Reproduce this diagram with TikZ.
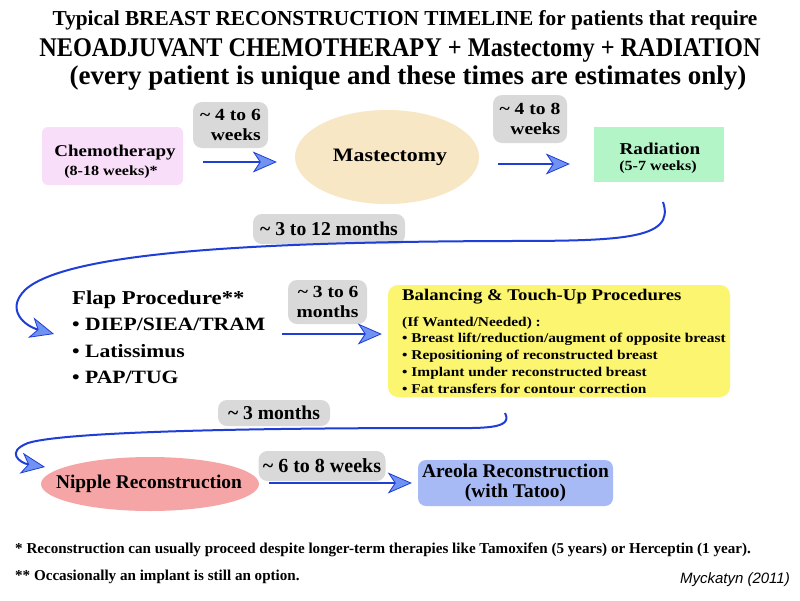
\documentclass[tikz,border=0pt]{standalone}
\usepackage{fontspec}
\setmainfont{Liberation Serif}
\newfontfamily\condf{Liberation Serif}[FakeStretch=0.9]
\newfontfamily\camf{Liberation Serif}[FakeStretch=1.15]
\newfontfamily\handf{Liberation Sans}
\usetikzlibrary{arrows.meta,shapes.geometric}
\definecolor{chemopink}{RGB}{248,222,248}
\definecolor{wheatc}{RGB}{247,231,196}
\definecolor{greenc}{RGB}{180,245,200}
\definecolor{yellowc}{RGB}{252,245,112}
\definecolor{salmonc}{RGB}{245,165,165}
\definecolor{lavc}{RGB}{167,186,245}
\definecolor{grayc}{RGB}{217,217,217}
\definecolor{linec}{RGB}{30,62,215}
\definecolor{tipfill}{RGB}{112,146,242}
\begin{document}
\begin{tikzpicture}[x=1pt,y=-1pt,
  every node/.style={text=black},
  box/.style={draw=none, rounded corners=6pt, align=center, inner sep=0pt},
  lbl/.style={fill=grayc, rounded corners=9pt, align=right, inner sep=0pt},
  conn/.style={draw=linec, line width=2pt, -{Stealth[length=24pt,width=21pt,inset=7pt,line width=0.8pt,fill=tipfill]}},
  ttl/.style={inner sep=0pt},
  txt/.style={inner sep=0pt}
]
\useasboundingbox[fill=white] (0,0) rectangle (800,600);

% titles
\node[ttl, font=\bfseries\fontsize{21.3}{24}\selectfont] (t1) at (405,20) {Typical BREAST RECONSTRUCTION TIMELINE for patients that require};
\node[ttl, font=\condf\bfseries\fontsize{27}{30}\selectfont] (t2) at (400,50) {NEOADJUVANT CHEMOTHERAPY + Mastectomy + RADIATION};
\node[ttl, font=\bfseries\fontsize{27}{30}\selectfont] (t3) at (408,78) {(every patient is unique and these times are estimates only)};

% row 1
\node[box, fill=chemopink, minimum width=141pt, minimum height=58pt] (chemo) at (112.5,156) {};
\node[txt, font=\camf\bfseries\fontsize{16.5}{18}\selectfont] (chemo1) at (115,153) {Chemotherapy};
\node[txt, font=\camf\bfseries\fontsize{14}{16}\selectfont] (chemo2) at (111,172) {(8-18 weeks)*};
\node[lbl, minimum width=75pt, minimum height=46pt, font=\camf\bfseries\fontsize{17}{20}\selectfont] (l1) at (230.5,125)
  {\textasciitilde\ 4 to 6\\ weeks};
\node[ellipse, fill=wheatc, minimum width=184pt, minimum height=94pt, inner sep=0pt] (mast) at (387,157) {};
\node[txt, font=\camf\bfseries\fontsize{19}{21}\selectfont] (mastt) at (390,157) {Mastectomy};
\node[lbl, minimum width=74pt, minimum height=48pt, font=\camf\bfseries\fontsize{17}{20}\selectfont] (l2) at (530,119)
  {\textasciitilde\ 4 to 8\\ weeks};
\node[box, rounded corners=0pt, fill=greenc, minimum width=130pt, minimum height=55pt] (rad) at (659,154.5) {};
\node[txt, font=\camf\bfseries\fontsize{16.6}{18}\selectfont] (rad1) at (660,149) {Radiation};
\node[txt, font=\camf\bfseries\fontsize{14}{16}\selectfont] (rad2) at (658,167) {(5-7 weeks)};

\draw[conn] ([xshift=20pt,yshift=-6pt]chemo.east) -- ([xshift=-18pt,yshift=-5pt]mast.west);
\draw[conn] ([xshift=19pt,yshift=-7pt]mast.east) -- ([xshift=-24pt,yshift=-9.5pt]rad.west);

% curve 1
\node[lbl, minimum width=152pt, minimum height=30pt, font=\bfseries\fontsize{19.6}{21}\selectfont] (l3) at (329,229)
  {\textasciitilde\ 3 to 12 months};
\coordinate (c1s) at (663,202);
\coordinate (c1e) at (54,334);
\draw[conn] (c1s) .. controls (676,240) and (620,241) .. (500,241)
  .. controls (300,242) and (70,248) .. (25,290)
  .. controls (5,310) and (25,326) .. (c1e);

% row 2
\node[anchor=west, align=left, inner sep=0pt, font=\camf\bfseries\fontsize{18.8}{26.5}\selectfont] (flap) at (72,337)
  {\fontsize{19.7}{26.5}\selectfont Flap Procedure**\\ \textbullet\ DIEP/SIEA/TRAM\\ \textbullet\ Latissimus\\ \textbullet\ PAP/TUG};
\node[lbl, minimum width=79pt, minimum height=44pt, font=\camf\bfseries\fontsize{17}{20}\selectfont] (l4) at (327.5,302)
  {\textasciitilde\ 3 to 6\\ months};
\node[box, fill=yellowc, rounded corners=10pt, minimum width=342pt, minimum height=112pt] (bal) at (559,341) {};
\node[anchor=north west, align=left, inner sep=0pt, font=\camf\bfseries\fontsize{13.4}{16.7}\selectfont] (baltxt) at (402,289)
  {\fontsize{16.3}{18}\selectfont Balancing \& Touch-Up Procedures\\[9pt]
   (If Wanted/Needed) :\\
   \textbullet\ Breast lift/reduction/augment of opposite breast\\
   \textbullet\ Repositioning of reconstructed breast\\
   \textbullet\ Implant under reconstructed breast\\
   \textbullet\ Fat transfers for contour correction};
\draw[conn] ([xshift=-106pt,yshift=7pt]bal.west) -- ([xshift=-6pt,yshift=7pt]bal.west);

% curve 2
\node[lbl, minimum width=112pt, minimum height=26pt, font=\bfseries\fontsize{19.6}{21}\selectfont] (l5) at (274,413)
  {\textasciitilde\ 3 months};
\coordinate (c2s) at (505,413);
\coordinate (c2e) at (45,467);
\draw[conn] (c2s) .. controls (514,430) and (480,428) .. (440,428)
  .. controls (300,428) and (70,430) .. (28,443)
  .. controls (5,452) and (20,463) .. (c2e);

% row 3
\node[ellipse, fill=salmonc, minimum width=218pt, minimum height=54pt, inner sep=0pt] (nip) at (150,484) {};
\node[txt, font=\bfseries\fontsize{19.4}{21}\selectfont] (nipt) at (149,484) {Nipple Reconstruction};
\node[lbl, minimum width=127pt, minimum height=30pt, font=\bfseries\fontsize{20}{22}\selectfont] (l6) at (322,466)
  {\textasciitilde\ 6 to 8 weeks};
\node[box, fill=lavc, rounded corners=8pt, minimum width=195pt, minimum height=46pt, font=\bfseries\fontsize{19.4}{20.5}\selectfont] (are) at (515.5,483)
  {Areola Reconstruction\\ (with Tatoo)};
\draw[conn] ([xshift=10pt,yshift=1pt]nip.east) -- ([xshift=-6pt]are.west);

% footnotes
\node[anchor=west, inner sep=0pt, font=\bfseries\fontsize{15.1}{16}\selectfont] (f1) at (15,550)
  {* Reconstruction can usually proceed despite longer-term therapies like Tamoxifen (5 years) or Herceptin (1 year).};
\node[anchor=west, inner sep=0pt, font=\bfseries\fontsize{15.1}{16}\selectfont] (f2) at (15,577)
  {** Occasionally an implant is still an option.};
\node[anchor=east, inner sep=0pt, font=\handf\itshape\fontsize{15}{16}\selectfont] (sig) at (790,580)
  {Myckatyn (2011)};
\end{tikzpicture}
\end{document}
